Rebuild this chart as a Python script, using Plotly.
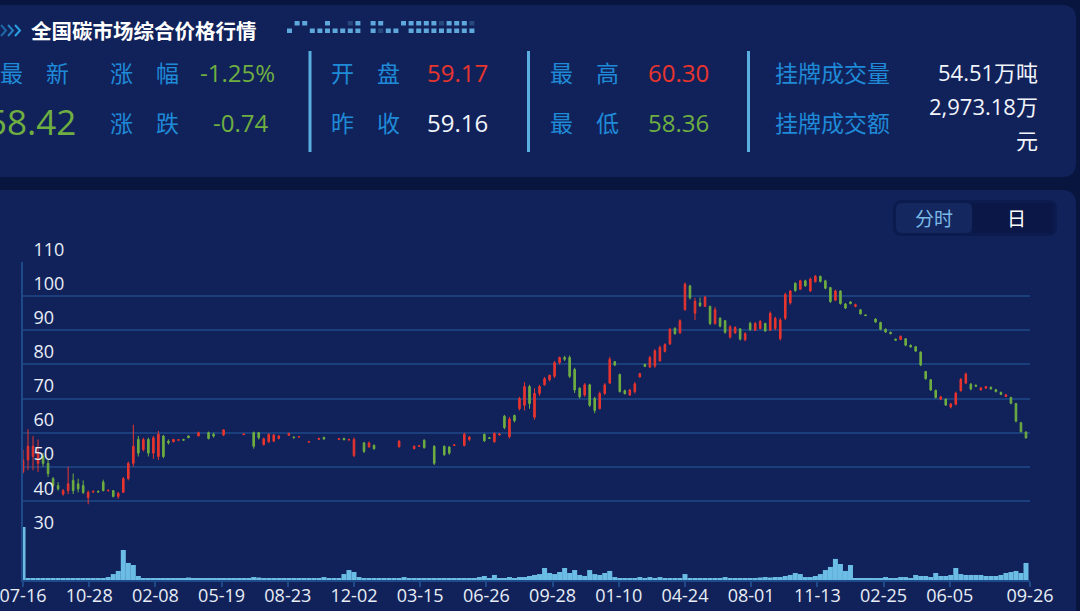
import plotly.graph_objects as go

# ---------------- data ----------------
tick_days = [0, 66, 132, 198, 264, 330, 396, 462, 528, 594, 660, 726, 792, 858, 924, 1004]
tick_labels = ["07-16", "10-28", "02-08", "05-19", "08-23", "12-02", "03-15", "06-26",
               "09-28", "01-10", "04-24", "08-01", "11-13", "02-25", "06-05", "09-26"]
day_step = 5  # each candle summarises 5 trading days

price_open = [
    48.5, 52, 53, 51, 53, 51, 46.5, 44.5, 42, 43,
    46, 45, 44.5, 41, 42.6, 42.8, 45.5, 43, 43, 41.3,
    42.5, 46.5, 51, 58, 55, 58, 54, 53, 59, 57.5,
    57.3, 57.8, 58, 59, None, 59, None, 60, 59.5, None,
    59.3, None, None, None, 59.4, None, 60, 60, 56.5, 57.3,
    57.5, 58.3, None, 59.2, 58.7, 58.7, None, 57.2, None, 58,
    58.6, None, None, 58, 58.3, 57.9, 53.3, None, 57, 55.8,
    56.3, None, None, None, None, 55.8, None, None, 55.3, 56,
    57.8, None, 56, None, 56, 55.8, 56.2, None, 56.2, 58,
    None, None, 59.5, 58.5, 57.3, 59.3, 64.8, 58.8, 65, 67,
    68, 73.5, 64.5, 71.5, 74, 75.5, 76.5, 80.5, 82, 82,
    78.5, 73, 71, 74, 70, 67, 71.5, 74.5, 80.8, 77,
    72.3, 71, 72, 76.3, 80, 79.2, 79.5, 81, 83.8, 86,
    90.6, 89.2, 96, 103, 95, 98, 97, 97, 92, 93.5,
    92.8, 88, 89.2, 90.4, 87.2, 92, 90, 90.5, 92, 90,
    90.5, 87.5, 93.5, 98, 103.8, 102, 104.5, 101.5, 104.2, 105.8,
    104.5, 102.5, 98.8, 101.5, 97.7, 98.3, 97, 96, 94.5, None,
    93.3, 92.3, 90.3, 89.4, 87.4, 87.3, 87.5, 85.6, 85.2, 83.6,
    77.9, 75.5, 72.4, 69.8, 69.8, 67.5, 68.3, 72.3, 74.5, 74.2,
    73.9, 72.5, 73, 73.3, 72.6, 71.8, 70.6, 70.3, 68.5, 62.9,
    60.2,
]
price_high = [
    55, 61, 59, 58, 54, 52, 47, 45.5, 43.5, 50,
    48, 46.5, 46, 43, 43, 43, 46.2, 43.3, 43.2, 42.6,
    47, 51.5, 62.3, 59, 58.5, 58.5, 59, 60.5, 59.3, 58,
    58.2, 58, 58.2, 59.2, None, 60.3, None, 60.3, 60, None,
    61, None, None, None, 59.7, None, 60.3, 60.2, 58.5, 59.8,
    59.6, 59.3, None, 59.9, 58.9, 58.9, None, 57.5, None, 58.5,
    58.8, None, None, 58.3, 58.5, 58.2, 58.6, None, 57.2, 57.4,
    56.5, None, None, None, None, 57.8, None, None, 56.3, 56.3,
    58, None, 56.3, None, 56.2, 56, 56.5, None, 60, 59,
    None, None, 59.7, 58.7, 60, 59.8, 65.2, 64.6, 65.3, 70.5,
    74.8, 74, 73, 74, 76.3, 77, 81, 82.3, 82.5, 82.6,
    79, 73.3, 74.5, 74.3, 70.5, 72, 74.5, 82.2, 81, 77.3,
    72.6, 72.8, 74.8, 77.5, 80.2, 82.5, 84.4, 85.5, 86.2, 90.7,
    90.8, 93.2, 104, 103.3, 99.5, 99.6, 100, 97.2, 96.8, 93.8,
    93, 91.5, 91.2, 90.6, 89.4, 92.5, 92.4, 93, 92.2, 95.5,
    94, 93.6, 101, 101.8, 104, 104.8, 104.8, 105.4, 106.2, 106,
    104.8, 102.7, 101.9, 101.7, 98, 98.5, 97.8, 96.2, 94.6, None,
    93.5, 92.5, 90.5, 89.6, 87.5, 88.5, 87.7, 85.8, 85.3, 83.8,
    78.1, 75.7, 72.6, 70.8, 70, 68.7, 72, 76, 77.6, 74.5,
    74.1, 73.3, 73.6, 73.5, 72.8, 72, 71.3, 70.5, 68.7, 63.1,
    60.3,
]
price_low = [
    48, 49, 49, 48.5, 50, 47, 44, 43, 41.5, 42,
    42, 42.5, 42, 39, 42.3, 42.5, 42.8, 42.7, 41, 40.6,
    42.3, 46, 50, 53, 54.5, 53, 52.3, 52, 52.5, 56.5,
    57.2, 57.6, 57.7, 58.4, None, 59, None, 58, 58.5, None,
    59, None, None, None, 59.3, None, 55.3, 58, 56.2, 57,
    57.2, 58, None, 59.1, 58.4, 58.6, None, 57.1, None, 57.8,
    58, None, None, 57.9, 57.8, 57.5, 52.8, None, 54, 55.6,
    55, None, None, None, None, 55.7, None, None, 55.1, 55.9,
    55.3, None, 50.5, None, 53.2, 53.5, 56.1, None, 56, 57.5,
    None, None, 57.3, 58.2, 57, 59.2, 61, 58.3, 63, 66.5,
    66.5, 67, 63.8, 70.8, 73.8, 75, 76, 80, 81, 76,
    71.6, 70, 70.5, 67.5, 65.7, 66.8, 71, 74.3, 79.5, 71.8,
    71.2, 70.8, 71.5, 76.2, 79.2, 79, 79, 80.8, 83.5, 85.7,
    88.7, 89, 95.8, 99, 93, 96.8, 96.8, 91.5, 91.6, 90.8,
    89, 87.5, 89, 87, 86.8, 89.8, 89.8, 90.3, 89.5, 89.8,
    90, 87, 93, 97.5, 101.3, 101.8, 102.8, 101.3, 104, 104,
    102, 98, 98.5, 97.5, 96.2, 97.6, 96.7, 94.6, 94.2, None,
    92.2, 90, 89.2, 88.8, 87, 87.1, 85.3, 84.9, 83.6, 79.5,
    75.5, 72.2, 70, 69.5, 67.8, 67.1, 68, 72, 74.3, 72.4,
    73.4, 72.4, 72.9, 72.6, 71.8, 71, 70.4, 68.3, 63, 60,
    58.36,
]
price_close = [
    52, 56, 56, 54, 51, 48, 44.5, 43.5, 43, 45,
    43, 43.5, 42.5, 42.5, 42.8, 42.6, 43, 43.1, 41.3, 42.2,
    46.5, 51, 56, 54, 58, 54, 58.5, 59.5, 53, 57,
    58, 57.9, 57.8, 58.5, None, 60, None, 58.3, 59, None,
    60.8, None, None, None, 59.6, None, 56, 58.5, 58.2, 59.5,
    59.3, 59, None, 59.8, 58.5, 58.8, None, 57.4, None, 58.3,
    58.1, None, None, 58.2, 57.9, 58, 58, None, 54.5, 57,
    55.3, None, None, None, None, 57.5, None, None, 56, 56.2,
    55.6, None, 51, None, 53.5, 54, 56.4, None, 59.5, 58.7,
    None, None, 57.6, 58.3, 59.8, 59.6, 61.5, 64, 63.5, 70,
    73.5, 68.5, 71.5, 73.5, 75.8, 76.8, 80.5, 82, 81.5, 76.5,
    72.5, 70.5, 74, 68, 66.5, 71.5, 74, 81.5, 79.8, 72,
    71.4, 72.5, 74.3, 77.3, 79.4, 82, 84, 85, 85.8, 90.3,
    89, 92.8, 103.5, 99.5, 98.5, 97.2, 99.7, 92, 96, 91.2,
    89.4, 91, 90.8, 87.4, 89, 90.2, 92, 92.6, 89.8, 95,
    93.5, 93, 100.5, 101.5, 101.6, 104.5, 103, 105, 105.8, 104.3,
    102.3, 98.4, 101.5, 97.8, 96.5, 97.8, 97.5, 94.8, 94.3, None,
    92.4, 90.3, 89.5, 89, 87.1, 88.2, 85.6, 85.1, 83.9, 79.8,
    75.8, 72.5, 70.3, 70.5, 68.1, 68.4, 71.6, 75.6, 77.2, 72.8,
    73.6, 73.1, 73.5, 72.8, 72, 71.2, 71.1, 68.6, 63.4, 60.3,
    58.42,
]
volume_wt = [  # 挂牌成交量, 万吨
    410, 15, 15, 15, 12, 12, 12, 12, 12, 12,
    12, 12, 12, 12, 12, 12, 15, 23, 46, 70,
    232, 132, 116, 31, 15, 8, 8, 8, 8, 8,
    8, 8, 8, 19, 8, 15, 8, 15, 8, 8,
    8, 8, 8, 8, 8, 8, 23, 19, 8, 8,
    8, 8, 8, 8, 8, 8, 8, 8, 8, 8,
    23, 8, 8, 12, 46, 77, 62, 23, 12, 12,
    8, 8, 15, 8, 8, 12, 23, 8, 12, 8,
    12, 8, 12, 8, 12, 12, 8, 8, 15, 12,
    12, 23, 31, 15, 39, 15, 15, 23, 15, 23,
    23, 31, 39, 46, 93, 54, 46, 62, 93, 54,
    77, 39, 31, 77, 46, 39, 54, 70, 23, 15,
    15, 12, 15, 23, 15, 23, 15, 23, 15, 15,
    15, 15, 46, 15, 12, 12, 15, 12, 12, 15,
    23, 15, 12, 12, 15, 15, 15, 19, 23, 19,
    23, 23, 31, 39, 54, 46, 23, 23, 31, 46,
    77, 101, 163, 124, 70, 116, 15, 8, 8, 8,
    12, 12, 23, 12, 15, 23, 23, 15, 39, 31,
    31, 23, 54, 31, 31, 39, 93, 46, 39, 39,
    39, 39, 31, 31, 31, 39, 54, 62, 70, 54,
    132,
]

title_text = "全国碳市场综合价格行情"
latest_price = "58.42"
change_pct = "-1.25%"
change_abs = "-0.74"
open_price = "59.17"
prev_close = "59.16"
day_high = "60.30"
day_low = "58.36"
listed_volume = "54.51万吨"
listed_amount = "2,973.18万"
listed_amount_unit = "元"

days = [i * day_step for i in range(len(price_close))]

# ---------------- styling ----------------
W, H = 1080, 611
BG = "#07153f"
PANEL = "#11225a"
GRID = "#1b3f7c"
AXIS = "#1f4a8a"
RED = "#e8352e"
GREEN = "#6fae41"
LBLUE = "#1f8ad8"
VOLC = "#6bbde6"
DIVC = "#5aaee0"
WHITE = "#f2f5fb"
CJK = "Noto Sans CJK SC"
NUM = "Open Sans, Noto Sans CJK SC"


def px(x):
    return x / W


def py(y):
    return 1 - y / H


def rrect(x0, y0, x1, y1, r):
    pts = [
        f"M{px(x0 + r)},{py(y0)}",
        f"L{px(x1 - r)},{py(y0)}",
        f"Q{px(x1)},{py(y0)} {px(x1)},{py(y0 + r)}",
        f"L{px(x1)},{py(y1 - r)}",
        f"Q{px(x1)},{py(y1)} {px(x1 - r)},{py(y1)}",
        f"L{px(x0 + r)},{py(y1)}",
        f"Q{px(x0)},{py(y1)} {px(x0)},{py(y1 - r)}",
        f"L{px(x0)},{py(y0 + r)}",
        f"Q{px(x0)},{py(y0)} {px(x0 + r)},{py(y0)}",
        "Z",
    ]
    return " ".join(pts)


shapes = []


def add_rrect(x0, y0, x1, y1, r, fill, line=None, lw=0):
    shapes.append(dict(type="path", path=rrect(x0, y0, x1, y1, r), xref="paper", yref="paper",
                       fillcolor=fill, line=dict(color=line or fill, width=lw), layer="below"))


def add_rect(x0, y0, x1, y1, fill):
    shapes.append(dict(type="rect", x0=px(x0), x1=px(x1), y0=py(y1), y1=py(y0), xref="paper",
                       yref="paper", fillcolor=fill, line=dict(width=0), layer="below"))


def add_line(x0, y0, x1, y1, color, width):
    shapes.append(dict(type="line", x0=px(x0), x1=px(x1), y0=py(y0), y1=py(y1), xref="paper",
                       yref="paper", line=dict(color=color, width=width), layer="below"))


# panels
add_rrect(-30, 5, 1076, 177, 14, PANEL)
add_rrect(-30, 190, 1076, 660, 14, PANEL)

# title chevrons
for i, op in enumerate([0.55, 0.75, 1.0]):
    x0 = 1 + i * 7
    shapes.append(dict(type="path",
                       path=f"M{px(x0)},{py(25)} L{px(x0 + 5)},{py(30.5)} L{px(x0)},{py(36)}",
                       xref="paper", yref="paper", line=dict(color="#2c9fe2", width=2),
                       opacity=op, layer="below"))

# decorative dot pattern
dot_rows = [".##..#..+#.##..#####+###+", "#..#######.#+##.#########"]
for r, row in enumerate(dot_rows):
    for c, ch in enumerate(row):
        if ch == ".":
            continue
        x0 = 287 + c * 7.6
        y0 = 21 + r * 7.5
        add_rect(x0, y0, x0 + 5, y0 + 4.5, "#5fa8dc" if ch == "#" else "#27497d")

# dividers in stats panel
for xd in (310, 528.5, 748.5):
    add_line(xd, 51, xd, 152, DIVC, 3)

# toggle 分时 / 日
add_rrect(893, 200, 1057, 236, 9, "#0c1b4e")
add_rrect(896, 203, 972, 233, 6, "#14275f")
add_rect(972, 203, 1053, 233, "#0a1747")

annotations = []


def text(t, x, y, color, size, anchor="left", family=CJK, bold=False):
    annotations.append(dict(text=f"<b>{t}</b>" if bold else t, x=px(x), y=py(y), xref="paper",
                            yref="paper", xanchor=anchor, yanchor="middle", showarrow=False,
                            font=dict(family=family, size=size, color=color), borderpad=0))


text(title_text, 30, 30, "#ffffff", 20.5, bold=True)

R1, R2 = 72.5, 122.5
text("最\u3000新", -1, R1, LBLUE, 23)
text(latest_price, 77, R2 - 1, GREEN, 35, "right", NUM)
text("涨\u3000幅", 109, R1, LBLUE, 23)
text(change_pct, 276, R1, GREEN, 24, "right", NUM)
text("涨\u3000跌", 109, R2, LBLUE, 23)
text(change_abs, 269, R2, GREEN, 24, "right", NUM)
text("开\u3000盘", 330, R1, LBLUE, 23)
text(open_price, 489, R1, RED, 24, "right", NUM)
text("昨\u3000收", 330, R2, LBLUE, 23)
text(prev_close, 489, R2, WHITE, 24, "right", NUM)
text("最\u3000高", 549, R1, LBLUE, 23)
text(day_high, 710, R1, RED, 24, "right", NUM)
text("最\u3000低", 549, R2, LBLUE, 23)
text(day_low, 710, R2, GREEN, 24, "right", NUM)
text("挂牌成交量", 774, R1, LBLUE, 23)
text(listed_volume, 1039, R1, WHITE, 22, "right", NUM)
text("挂牌成交额", 774, R2, LBLUE, 23)
text(listed_amount, 1039, 106, WHITE, 22, "right", NUM)
text(listed_amount_unit, 1039, 140, WHITE, 22, "right", NUM)

text("分时", 934, 218, "#7ab9e6", 19, "center")
text("日", 1016, 218, "#ffffff", 19, "center")

# ---------------- traces ----------------
fig = go.Figure()
fig.add_trace(go.Candlestick(
    x=days, open=price_open, high=price_high, low=price_low, close=price_close,
    increasing=dict(line=dict(color=RED, width=1), fillcolor=RED),
    decreasing=dict(line=dict(color=GREEN, width=1), fillcolor=GREEN),
    whiskerwidth=0, xaxis="x", yaxis="y", hoverinfo="none", showlegend=False,
))
fig.add_trace(go.Bar(
    x=days, y=volume_wt, width=day_step, xaxis="x", yaxis="y2",
    marker=dict(color=VOLC, line=dict(width=0)), hoverinfo="none", showlegend=False,
))

fig.update_layout(
    template="none",
    width=W, height=H, autosize=False,
    margin=dict(l=0, r=0, t=0, b=0, pad=0, autoexpand=False),
    paper_bgcolor=BG, plot_bgcolor="rgba(0,0,0,0)",
    font=dict(family=NUM, color=WHITE),
    boxgap=0.55, showlegend=False,
    shapes=shapes, annotations=annotations,
    xaxis=dict(domain=[px(23), px(1030)], range=[0, 1004], anchor="y2", automargin=False,
               tickmode="array", tickvals=tick_days, ticktext=tick_labels,
               ticks="outside", ticklen=5, tickwidth=1.5, tickcolor=AXIS,
               ticklabeloverflow="allow", ticklabelstandoff=-7,
               showline=True, linecolor=AXIS, linewidth=2, showgrid=False, zeroline=False,
               tickfont=dict(size=18, color="#e8edf6", family=NUM),
               rangeslider=dict(visible=False), fixedrange=True),
    yaxis=dict(domain=[py(535), py(262)], range=[30, 110], tick0=30, dtick=10,
               anchor="x", automargin=False, showgrid=True, gridcolor=GRID, gridwidth=1.5,
               ticklabelposition="inside top", ticklabeloverflow="allow", ticks="",
               ticklabelstandoff=10,
               tickfont=dict(size=18, color="#e8edf6", family=NUM),
               showline=True, linecolor=AXIS, linewidth=2, zeroline=False, fixedrange=True),
    yaxis2=dict(domain=[py(580), py(527)], range=[0, 410], anchor="x", automargin=False,
                showgrid=False, showticklabels=False, ticks="", showline=True, linecolor=AXIS,
                linewidth=2, zeroline=False, fixedrange=True),
)

fig.write_html("out.html", config={"displayModeBar": False, "responsive": False},
               post_script="document.body.style.margin='0';document.body.style.overflow='hidden';")
